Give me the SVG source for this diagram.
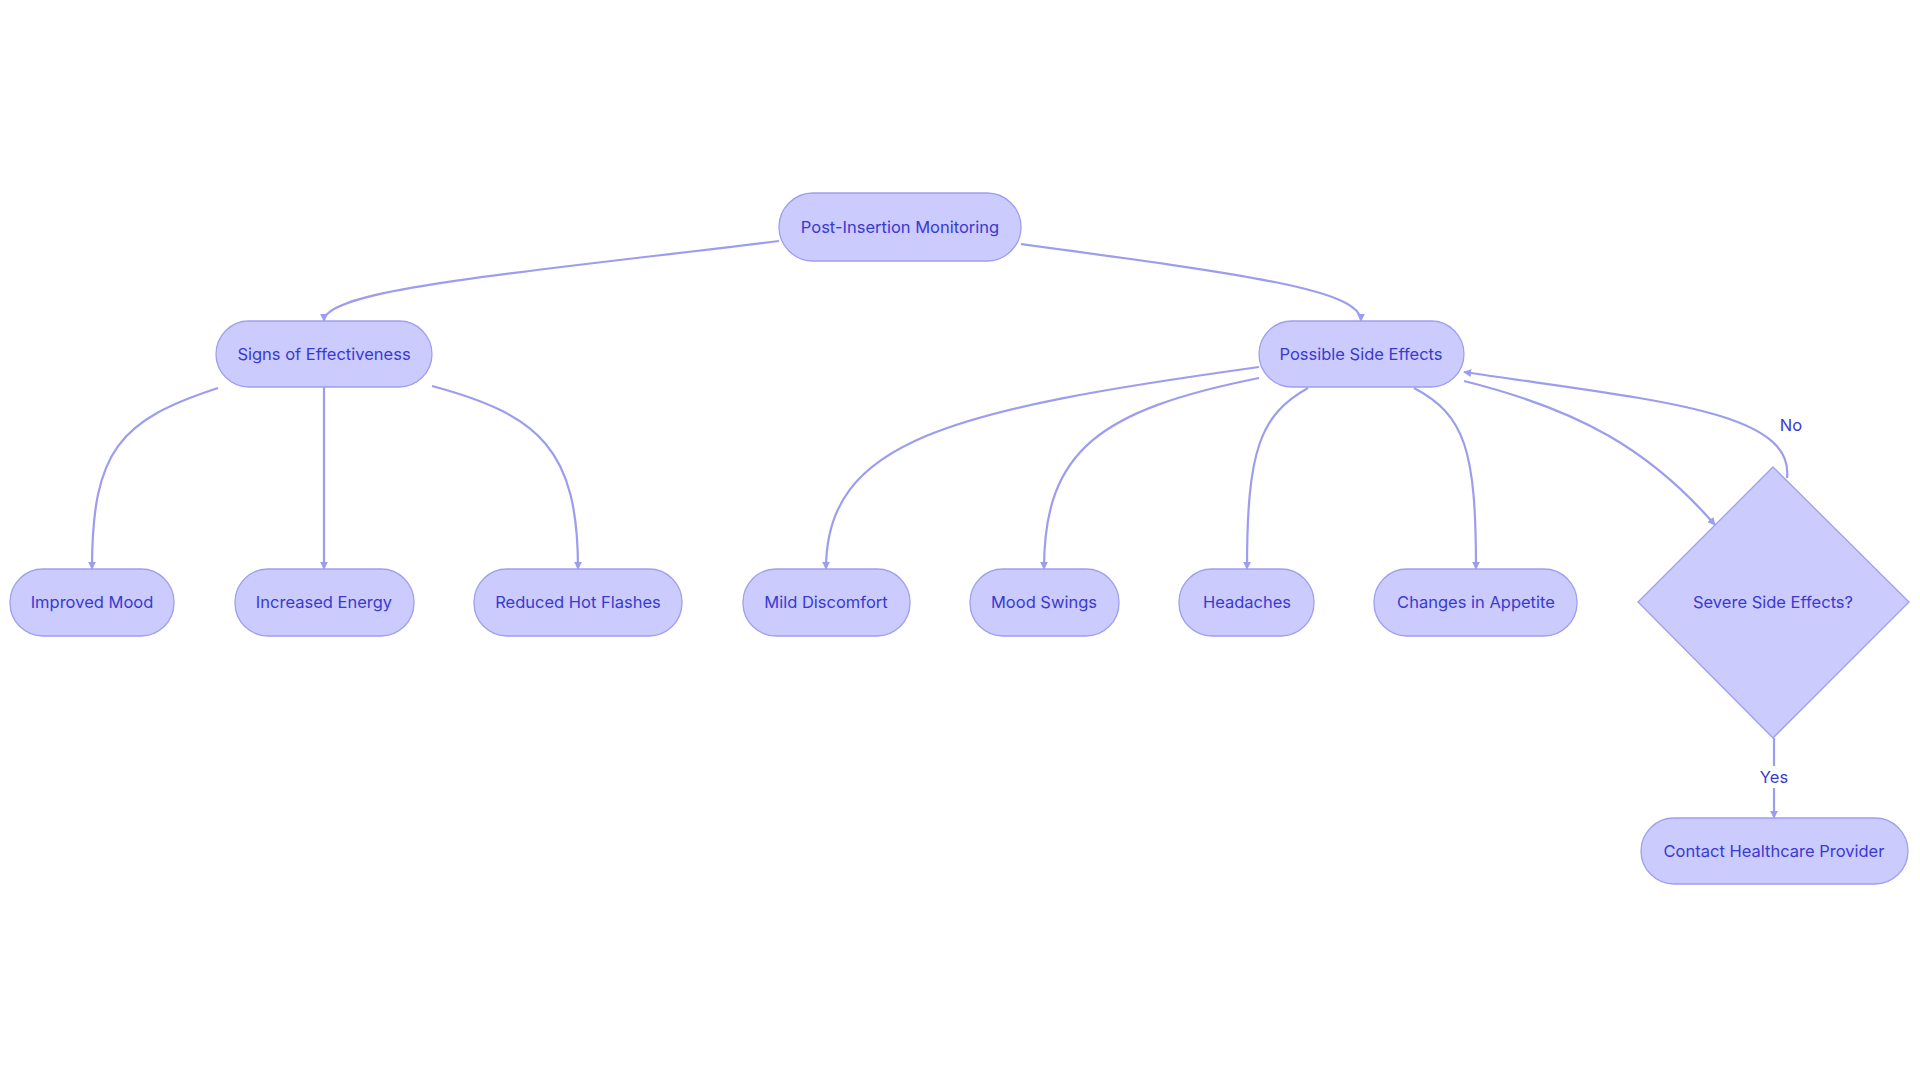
<svg xmlns="http://www.w3.org/2000/svg" width="1920" height="1083" viewBox="0 0 1920 1083">
<style>
.n{fill:#cbcbfd;stroke:#9f9ff0;stroke-width:1.3}
.t{font-family:Inter,"Noto Sans",sans-serif;font-size:16.5px;fill:#3a3ad0;text-anchor:middle;dominant-baseline:central}
.e{fill:none;stroke:#9d9def;stroke-width:2.2}
</style>
<defs><marker id="a" viewBox="0 0 10 10" refX="9" refY="5" markerWidth="7" markerHeight="7" markerUnits="userSpaceOnUse" orient="auto"><path d="M0,0L10,5L0,10z" fill="#9d9def"/></marker>
<marker id="b" viewBox="0 0 10 10" refX="9" refY="5" markerWidth="8" markerHeight="8" orient="auto" markerUnits="userSpaceOnUse"><path d="M0,0L10,5L0,10z" fill="#9d9def"/></marker></defs>
<rect width="1920" height="1083" fill="#fff"/>
<g id="edges">
<path class="e" marker-end="url(#b)" d="M779,241 C500,275 324,290 324,321"/>
<path class="e" marker-end="url(#b)" d="M1021,244 C1250,275 1361,290 1361,321"/>
<path class="e" marker-end="url(#b)" d="M218,388 C120,420 92,450 92,569"/>
<path class="e" marker-end="url(#b)" d="M324,387 L324,569"/>
<path class="e" marker-end="url(#b)" d="M432,386 C540,415 578,450 578,569"/>
<path class="e" marker-end="url(#b)" d="M1259,367 C950,410 826,440 826,569"/>
<path class="e" marker-end="url(#b)" d="M1259,378 C1100,410 1044,450 1044,569"/>
<path class="e" marker-end="url(#b)" d="M1308,388 C1260,415 1247,450 1247,569"/>
<path class="e" marker-end="url(#b)" d="M1414,388 C1465,415 1476,450 1476,569"/>
<path class="e" marker-end="url(#b)" d="M1464,381 C1580,410 1650,450 1715,525"/>
<path class="e" marker-end="url(#b)" d="M1787,478 C1795,410 1650,400 1464,372"/>
<path class="e" marker-end="url(#b)" d="M1774,738 L1774,818"/>
<text class="t" x="1791" y="425">No</text>
<rect x="1756" y="766" width="36" height="22" fill="#fff"/>
<text class="t" x="1774" y="777">Yes</text>
</g>
<g id="n1"><rect class="n" x="779" y="193" width="242" height="68" rx="34"/><text class="t" x="900" y="227">Post-Insertion Monitoring</text></g>
<g id="n2"><rect class="n" x="216" y="321" width="216" height="66" rx="33"/><text class="t" x="324" y="354">Signs of Effectiveness</text></g>
<g id="n3"><rect class="n" x="1259" y="321" width="205" height="66" rx="33"/><text class="t" x="1361" y="354">Possible Side Effects</text></g>
<g id="n4"><rect class="n" x="10" y="569" width="164" height="67" rx="33"/><text class="t" x="92" y="602">Improved Mood</text></g>
<g id="n5"><rect class="n" x="235" y="569" width="179" height="67" rx="33"/><text class="t" x="324" y="602">Increased Energy</text></g>
<g id="n6"><rect class="n" x="474" y="569" width="208" height="67" rx="33"/><text class="t" x="578" y="602">Reduced Hot Flashes</text></g>
<g id="n7"><rect class="n" x="743" y="569" width="167" height="67" rx="33"/><text class="t" x="826" y="602">Mild Discomfort</text></g>
<g id="n8"><rect class="n" x="970" y="569" width="149" height="67" rx="33"/><text class="t" x="1044" y="602">Mood Swings</text></g>
<g id="n9"><rect class="n" x="1179" y="569" width="135" height="67" rx="33"/><text class="t" x="1247" y="602">Headaches</text></g>
<g id="n10"><rect class="n" x="1374" y="569" width="203" height="67" rx="33"/><text class="t" x="1476" y="602">Changes in Appetite</text></g>
<g id="n11"><polygon class="n" points="1773,467 1909,602 1773,738 1638,602"/><text class="t" x="1773" y="602">Severe Side Effects?</text></g>
<g id="n12"><rect class="n" x="1641" y="818" width="267" height="66" rx="33"/><text class="t" x="1774" y="851">Contact Healthcare Provider</text></g>
</svg>
